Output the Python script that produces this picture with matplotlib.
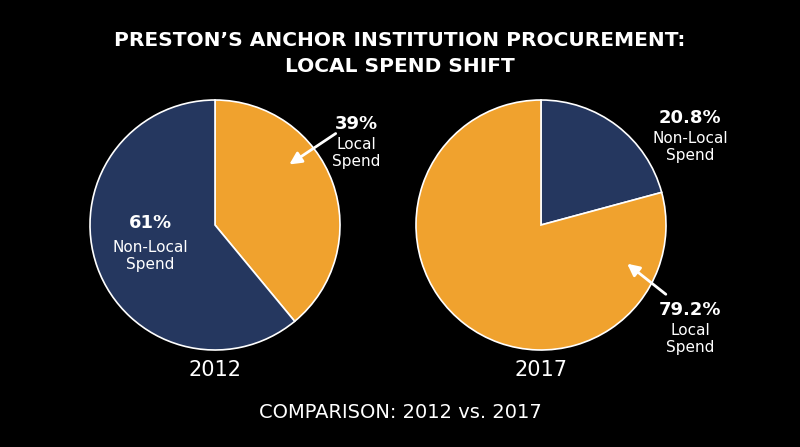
import matplotlib
matplotlib.use("Agg")
import matplotlib.pyplot as plt

years = ["2012", "2017"]
local = [39.0, 79.2]
nonlocal_ = [61.0, 20.8]
ORANGE = "#F0A22E"
NAVY = "#25375F"

W, H = 800, 447
fig = plt.figure(figsize=(W/100, H/100), dpi=100, facecolor="black")

def pie_ax(cx, cy, r):
    return fig.add_axes([(cx-r)/W, (H-cy-r)/H, 2*r/W, 2*r/H])

ax1 = pie_ax(215, 225, 125)
ax1.pie([local[0], nonlocal_[0]], colors=[ORANGE, NAVY], startangle=90, counterclock=False,
        wedgeprops=dict(edgecolor="white", linewidth=1.2))
ax2 = pie_ax(541, 225, 125)
ax2.pie([nonlocal_[1], local[1]], colors=[NAVY, ORANGE], startangle=90, counterclock=False,
        wedgeprops=dict(edgecolor="white", linewidth=1.2))
for a in (ax1, ax2):
    a.set_xlim(-1, 1); a.set_ylim(-1, 1); a.set_aspect("equal")

ov = fig.add_axes([0, 0, 1, 1], facecolor="none")
ov.set_zorder(10)
ov.set_xlim(0, W); ov.set_ylim(H, 0); ov.axis("off")

ov.text(400, 40, "PRESTON’S ANCHOR INSTITUTION PROCUREMENT:", color="white", fontsize=14.5,
        fontweight="bold", ha="center", va="center")
ov.text(400, 66, "LOCAL SPEND SHIFT", color="white", fontsize=14.5,
        fontweight="bold", ha="center", va="center")

ov.text(215, 370, years[0], color="white", fontsize=15, ha="center", va="center")
ov.text(541, 370, years[1], color="white", fontsize=15, ha="center", va="center")
ov.text(400, 412, "COMPARISON: 2012 vs. 2017", color="white", fontsize=14, ha="center", va="center")

# left labels
ov.text(356, 124, f"{local[0]:.0f}%", color="white", fontsize=13, fontweight="bold", ha="center", va="center")
ov.text(356, 153, "Local\nSpend", color="white", fontsize=11, ha="center", va="center", linespacing=1.1)
ov.annotate("", xy=(287, 166), xytext=(338, 132),
            arrowprops=dict(arrowstyle="-|>", color="white", lw=2, mutation_scale=18))
ov.text(150, 223, f"{nonlocal_[0]:.0f}%", color="white", fontsize=13, fontweight="bold", ha="center", va="center")
ov.text(150, 256, "Non-Local\nSpend", color="white", fontsize=11, ha="center", va="center", linespacing=1.1)

# right labels
ov.text(690, 118, f"{nonlocal_[1]:.1f}%", color="white", fontsize=13, fontweight="bold", ha="center", va="center")
ov.text(690, 147, "Non-Local\nSpend", color="white", fontsize=11, ha="center", va="center", linespacing=1.1)
ov.text(690, 310, f"{local[1]:.1f}%", color="white", fontsize=13, fontweight="bold", ha="center", va="center")
ov.text(690, 339, "Local\nSpend", color="white", fontsize=11, ha="center", va="center", linespacing=1.1)
ov.annotate("", xy=(625, 262), xytext=(668, 296),
            arrowprops=dict(arrowstyle="-|>", color="white", lw=2, mutation_scale=18))

fig.savefig("out.png", dpi=100, facecolor="black")
